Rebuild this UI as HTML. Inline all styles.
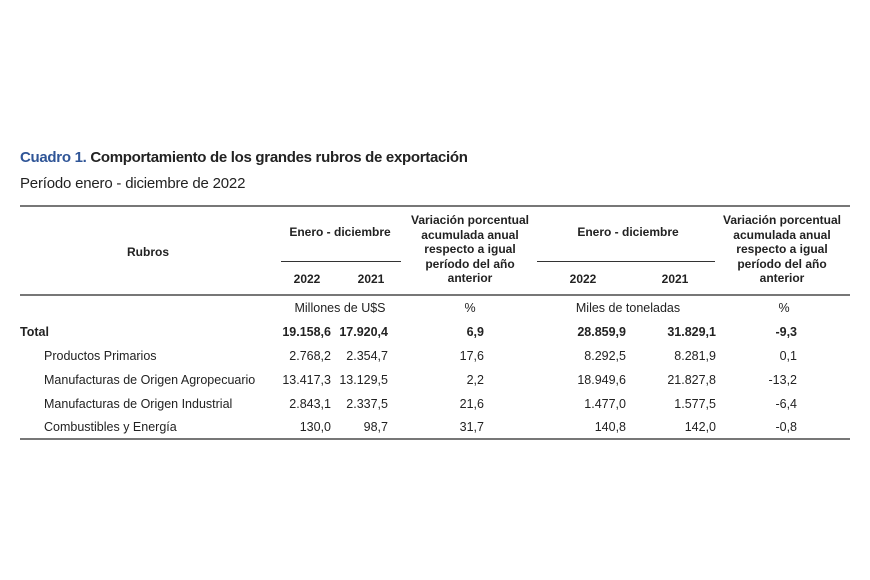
<!DOCTYPE html>
<html><head><meta charset="utf-8"><style>
body{margin:0;width:870px;height:580px;background:#fff;position:relative;overflow:hidden;font-family:"Liberation Sans",sans-serif;color:#222}
div{position:absolute;white-space:nowrap}
.t{font-size:15px;font-weight:bold;letter-spacing:-0.3px}
.h{font-size:12px;font-weight:bold;text-align:center;line-height:14.5px}
.c{transform:translateX(-50%)}
.r{transform:translateX(-100%)}
.n{font-size:12.5px}
.b{font-weight:bold}
.rule{height:2px;background:#777}
</style></head><body>
<div class="t" style="left:20px;top:149px"><span style="color:#2f5597">Cuadro 1.</span> Comportamiento de los grandes rubros de exportación</div>
<div style="left:20px;top:175px;font-size:15px;letter-spacing:-0.2px">Período enero - diciembre de 2022</div>
<div class="rule" style="left:20px;top:205px;width:830px"></div>
<div class="rule" style="left:20px;top:294px;width:830px"></div>
<div class="rule" style="left:20px;top:438px;width:830px"></div>
<div style="left:281px;top:261px;width:120px;height:1px;background:#333"></div>
<div style="left:537px;top:261px;width:178px;height:1px;background:#333"></div>
<div class="h c" style="left:148px;top:245px">Rubros</div>
<div class="h c" style="left:340px;top:225px">Enero - diciembre</div>
<div class="h c" style="left:307px;top:272px">2022</div>
<div class="h c" style="left:371px;top:272px">2021</div>
<div class="h c" style="left:470px;top:213px">Variación porcentual<br>acumulada anual<br>respecto a igual<br>período del año<br>anterior</div>
<div class="h c" style="left:628px;top:225px">Enero - diciembre</div>
<div class="h c" style="left:583px;top:272px">2022</div>
<div class="h c" style="left:675px;top:272px">2021</div>
<div class="h c" style="left:782px;top:213px">Variación porcentual<br>acumulada anual<br>respecto a igual<br>período del año<br>anterior</div>
<div class="n c" style="left:340px;top:301px">Millones de U$S</div>
<div class="n c" style="left:470px;top:301px">%</div>
<div class="n c" style="left:628px;top:301px">Miles de toneladas</div>
<div class="n c" style="left:784px;top:301px">%</div>

<div class="n b" style="left:20px;top:325px">Total</div>
<div class="n" style="left:44px;top:349px">Productos Primarios</div>
<div class="n" style="left:44px;top:373px">Manufacturas de Origen Agropecuario</div>
<div class="n" style="left:44px;top:397px">Manufacturas de Origen Industrial</div>
<div class="n" style="left:44px;top:420px">Combustibles y Energía</div>

<div class="n b r" style="left:331px;top:325px">19.158,6</div>
<div class="n b r" style="left:388px;top:325px">17.920,4</div>
<div class="n b r" style="left:484px;top:325px">6,9</div>
<div class="n b r" style="left:626px;top:325px">28.859,9</div>
<div class="n b r" style="left:716px;top:325px">31.829,1</div>
<div class="n b r" style="left:797px;top:325px">-9,3</div>

<div class="n r" style="left:331px;top:349px">2.768,2</div>
<div class="n r" style="left:388px;top:349px">2.354,7</div>
<div class="n r" style="left:484px;top:349px">17,6</div>
<div class="n r" style="left:626px;top:349px">8.292,5</div>
<div class="n r" style="left:716px;top:349px">8.281,9</div>
<div class="n r" style="left:797px;top:349px">0,1</div>

<div class="n r" style="left:331px;top:373px">13.417,3</div>
<div class="n r" style="left:388px;top:373px">13.129,5</div>
<div class="n r" style="left:484px;top:373px">2,2</div>
<div class="n r" style="left:626px;top:373px">18.949,6</div>
<div class="n r" style="left:716px;top:373px">21.827,8</div>
<div class="n r" style="left:797px;top:373px">-13,2</div>

<div class="n r" style="left:331px;top:397px">2.843,1</div>
<div class="n r" style="left:388px;top:397px">2.337,5</div>
<div class="n r" style="left:484px;top:397px">21,6</div>
<div class="n r" style="left:626px;top:397px">1.477,0</div>
<div class="n r" style="left:716px;top:397px">1.577,5</div>
<div class="n r" style="left:797px;top:397px">-6,4</div>

<div class="n r" style="left:331px;top:420px">130,0</div>
<div class="n r" style="left:388px;top:420px">98,7</div>
<div class="n r" style="left:484px;top:420px">31,7</div>
<div class="n r" style="left:626px;top:420px">140,8</div>
<div class="n r" style="left:716px;top:420px">142,0</div>
<div class="n r" style="left:797px;top:420px">-0,8</div>
</body></html>
